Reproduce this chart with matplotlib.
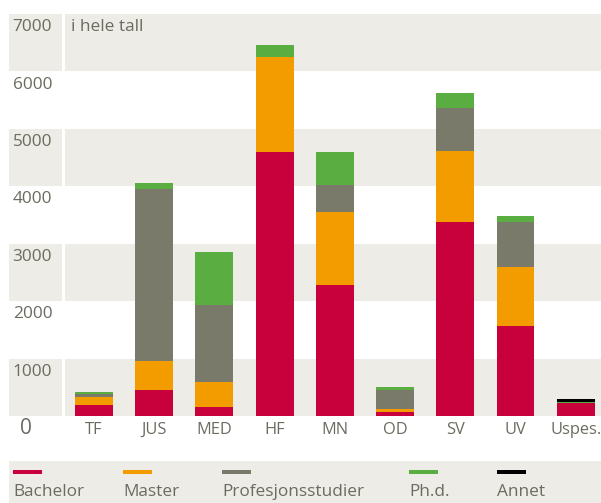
import matplotlib
matplotlib.use("Agg")
import matplotlib.pyplot as plt
from matplotlib.patches import Rectangle

# faculty names and student counts per programme level
faculties = ["TF", "JUS", "MED", "HF", "MN", "OD", "SV", "UV", "Uspes."]
bachelor = [190, 453, 157, 4600, 2282, 70, 3380, 1568, 225]
master = [140, 505, 435, 1655, 1272, 50, 1237, 1028, 0]
profesjon = [55, 2997, 1342, 0, 470, 340, 749, 784, 0]
phd = [35, 105, 923, 210, 576, 45, 261, 104, 25]
annet = [0, 0, 0, 0, 0, 0, 0, 0, 45]

series = [
    ("Bachelor", bachelor, "#C8003C"),
    ("Master", master, "#F39C00"),
    ("Profesjonsstudier", profesjon, "#7A7A6A"),
    ("Ph.d.", phd, "#5AAD41"),
    ("Annet", annet, "#000000"),
]
ytick_values = [1000, 2000, 3000, 4000, 5000, 6000, 7000]

BAND = "#EDECE7"
TXT = "#6B6B60"
FS = 12.4
plt.rcParams["font.family"] = ["Open Sans", "DejaVu Sans"]

W, H = 601, 503
fig = plt.figure(figsize=(W / 100, H / 100), dpi=100)

ax_bottom_px, ax_top_px = 416, 14
ax = fig.add_axes([65 / W, (H - ax_bottom_px) / H, 536 / W, (ax_bottom_px - ax_top_px) / H])
ax_lab = fig.add_axes([9 / W, (H - ax_bottom_px) / H, 53 / W, (ax_bottom_px - ax_top_px) / H],
                      sharey=ax)

for a in (ax, ax_lab):
    for v in range(0, 7000, 2000):
        a.axhspan(v, v + 1000, color=BAND, lw=0, zorder=0)
    for s in a.spines.values():
        s.set_visible(False)
    a.set_ylim(0, 7000)

ax_lab.set_xlim(0, 1)
ax_lab.set_xticks([])
ax_lab.tick_params(axis="y", left=False, labelleft=False)

x = list(range(len(faculties)))
bottoms = [0] * len(faculties)
for name, vals, col in series:
    ax.bar(x, vals, width=0.63, bottom=bottoms, color=col, lw=0, zorder=2)
    bottoms = [b + v for b, v in zip(bottoms, vals)]

ax.set_xlim(-0.48, 8.42)
ax.set_xticks(x)
ax.set_xticklabels(faculties, fontsize=11.8, color=TXT)
ax.tick_params(axis="x", length=0, pad=4.5)
ax.tick_params(axis="y", left=False, labelleft=False)

for v in ytick_values:
    ax_lab.text(0.07, v - 230, str(v), fontsize=FS, color=TXT, va="center", ha="left")
ax.text(0.011, 7000 - 230, "i hele tall", transform=ax.get_yaxis_transform(),
        fontsize=FS, color=TXT, va="center", ha="left")
fig.text(20 / W, 1 - 429 / H, "0", fontsize=15, color=TXT, va="center", ha="left")

# legend strip
fig.add_artist(Rectangle((9 / W, 0), 592 / W, 42 / H, transform=fig.transFigure,
                         color=BAND, lw=0, zorder=0))
leg_x = [13, 123, 222, 409, 497]
for (name, vals, col), lx in zip(series, leg_x):
    fig.add_artist(Rectangle((lx / W, 1 - 474 / H), 29 / W, 4 / H,
                             transform=fig.transFigure, color=col, lw=0))
    fig.text(lx / W, 1 - 492 / H, name, fontsize=FS, color=TXT, va="center", ha="left")

fig.savefig("out.png", dpi=100)
